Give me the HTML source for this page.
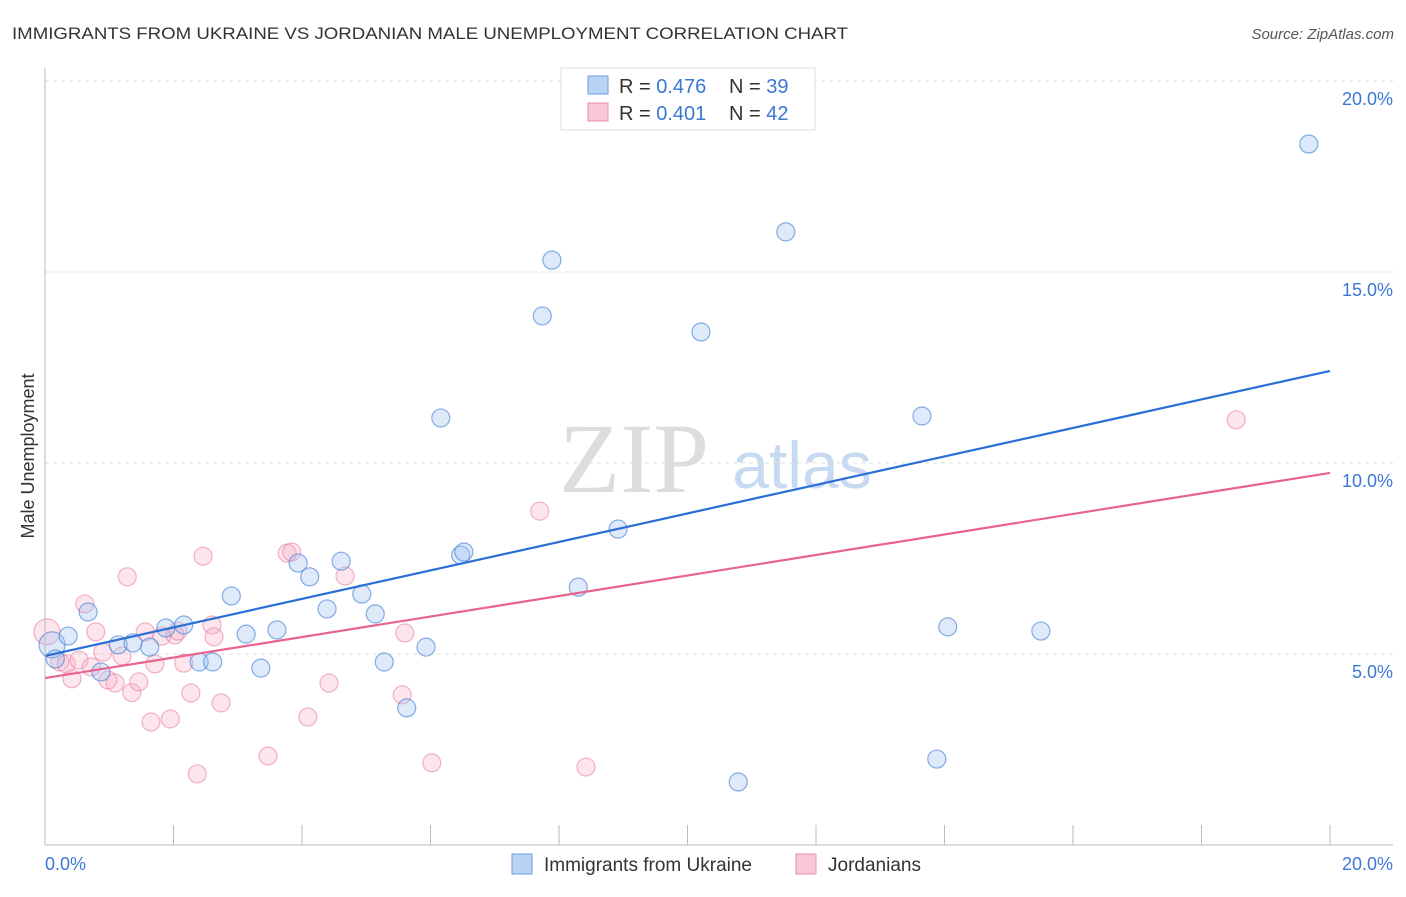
<!DOCTYPE html>
<html><head><meta charset="utf-8"><style>
body{margin:0;background:#fff;font-family:"Liberation Sans",sans-serif;}
</style></head><body>
<svg id="c" width="1406" height="892" font-family="Liberation Sans, sans-serif">
<text x="12" y="39" font-size="17" fill="#333" textLength="836" lengthAdjust="spacingAndGlyphs">IMMIGRANTS FROM UKRAINE VS JORDANIAN MALE UNEMPLOYMENT CORRELATION CHART</text>
<text x="1394" y="39" font-size="15" fill="#555" font-style="italic" text-anchor="end">Source: ZipAtlas.com</text>
<text x="34" y="456" font-size="18" fill="#333" transform="rotate(-90 34 456)" text-anchor="middle">Male Unemployment</text>
<text x="634" y="492" font-size="100" fill="#ddd" style="font-family:'Liberation Serif',serif" text-anchor="middle">ZIP</text>
<text x="802" y="488" font-size="66" fill="#c7daf2" text-anchor="middle">atlas</text>
<g id="grid"></g><g id="pts"></g><g id="lines"></g>
<line x1="45" y1="68" x2="45" y2="845" stroke="#bbb"/>
<line x1="45" y1="845" x2="1393" y2="845" stroke="#bbb"/>
<text x="45" y="870" font-size="18" fill="#3a78d6">0.0%</text>
<text x="1393" y="870" font-size="18" fill="#3a78d6" text-anchor="end">20.0%</text>
<g>
<rect x="561" y="68" width="254" height="62" fill="#fff" stroke="#ddd"/>
<rect x="588" y="76" width="20" height="18" fill="#b9d3f5" stroke="#6e9fe0"/>
<rect x="588" y="103" width="20" height="18" fill="#f9c8d6" stroke="#ec8fac"/>
<text x="619" y="93" font-size="20" fill="#333">R = <tspan fill="#3a78d6">0.476</tspan></text>
<text x="729" y="93" font-size="20" fill="#333">N = <tspan fill="#3a78d6">39</tspan></text>
<text x="619" y="120" font-size="20" fill="#333">R = <tspan fill="#3a78d6">0.401</tspan></text>
<text x="729" y="120" font-size="20" fill="#333">N = <tspan fill="#3a78d6">42</tspan></text>
</g>
<g>
<rect x="512" y="854" width="20" height="20" fill="#b9d3f5" stroke="#6e9fe0"/>
<text x="544" y="871" font-size="19" fill="#333">Immigrants from Ukraine</text>
<rect x="796" y="854" width="20" height="20" fill="#f9c8d6" stroke="#ec8fac"/>
<text x="828" y="871" font-size="19" fill="#333">Jordanians</text>
</g>
</svg>
<script>
const yTicks=[5,10,15,20];
const xTicks=[0,2,4,6,8,10,12,14,16,18,20];
const blueX=[0.11,0.36,0.16,0.67,0.87,1.14,1.37,1.63,1.88,2.16,2.40,2.61,2.90,3.13,3.36,3.61,3.94,4.12,4.39,4.61,4.93,5.14,5.28,5.63,5.93,6.16,6.47,6.52,7.74,7.89,8.30,8.92,10.21,10.79,11.53,13.65,13.88,14.05,15.50,19.67];
const blueY=[5.24,5.47,4.87,6.10,4.53,5.24,5.29,5.18,5.68,5.76,4.79,4.79,6.52,5.52,4.63,5.63,7.38,7.02,6.18,7.43,6.57,6.05,4.79,3.59,5.18,11.18,7.59,7.67,13.85,15.31,6.75,8.27,13.43,1.65,16.05,11.23,2.25,5.71,5.60,18.35];
const pinkX=[0.03,0.23,0.33,0.42,0.53,0.62,0.72,0.79,0.90,0.98,1.09,1.20,1.28,1.35,1.46,1.56,1.65,1.71,1.82,1.95,2.02,2.07,2.16,2.27,2.37,2.46,2.60,2.63,2.74,3.47,3.77,3.84,4.09,4.42,4.67,5.56,5.60,6.02,7.70,8.42,18.54];
const pinkY=[5.58,4.79,4.74,4.35,4.84,6.31,4.66,5.58,5.05,4.32,4.24,4.95,7.02,3.99,4.27,5.58,3.22,4.74,5.47,3.30,5.50,5.60,4.76,3.98,1.86,7.56,5.76,5.45,3.72,2.33,7.64,7.67,3.35,4.24,7.04,3.93,5.55,2.15,8.74,2.04,11.13];
const trendBlue=[4.95,12.41];
const trendPink=[4.37,9.74];
const X=v=>45+v*64.25, Y=v=>845-v*38.2;
const NS='http://www.w3.org/2000/svg';
function mk(t,a,p){const e=document.createElementNS(NS,t);for(const k in a)e.setAttribute(k,a[k]);p.appendChild(e);return e;}
const g=document.getElementById('grid');
yTicks.forEach(v=>{
 const l=mk('line',{x1:45,x2:1393,y1:Y(v),y2:Y(v),stroke:'#ddd','stroke-dasharray':'4,4'},g);
 
 
 const t=mk('text',{x:1393,y:Y(v)+24,'font-size':18,fill:'#3a78d6','text-anchor':'end'},g);
 t.textContent=v.toFixed(1)+'%';
 
 
});
xTicks.forEach(v=>{
 const l=mk('line',{x1:X(v),x2:X(v),y1:825,y2:845,stroke:'#bbb'},g);
 
 
});
const p=document.getElementById('pts');
pinkX.forEach((x,i)=>{
 const c=mk('circle',{cx:X(x),cy:Y(pinkY[i]),r:i==0?13:9,fill:'rgba(246,170,195,0.3)',stroke:'rgba(232,120,155,0.55)','stroke-width':1.2},p);
 
 
});
blueX.forEach((x,i)=>{
 const c=mk('circle',{cx:X(x),cy:Y(blueY[i]),r:i==0?13:9,fill:'rgba(160,196,240,0.35)',stroke:'rgba(70,130,215,0.65)','stroke-width':1.2},p);
 
 
});
const L=document.getElementById('lines');
const lb=mk('line',{x1:X(0),y1:Y(trendBlue[0]),x2:X(20),y2:Y(trendBlue[1]),stroke:'#2a6fd6','stroke-width':2.2},L);


const lp=mk('line',{x1:X(0),y1:Y(trendPink[0]),x2:X(20),y2:Y(trendPink[1]),stroke:'#e8648e','stroke-width':2.2},L);


</script>
</body></html>
